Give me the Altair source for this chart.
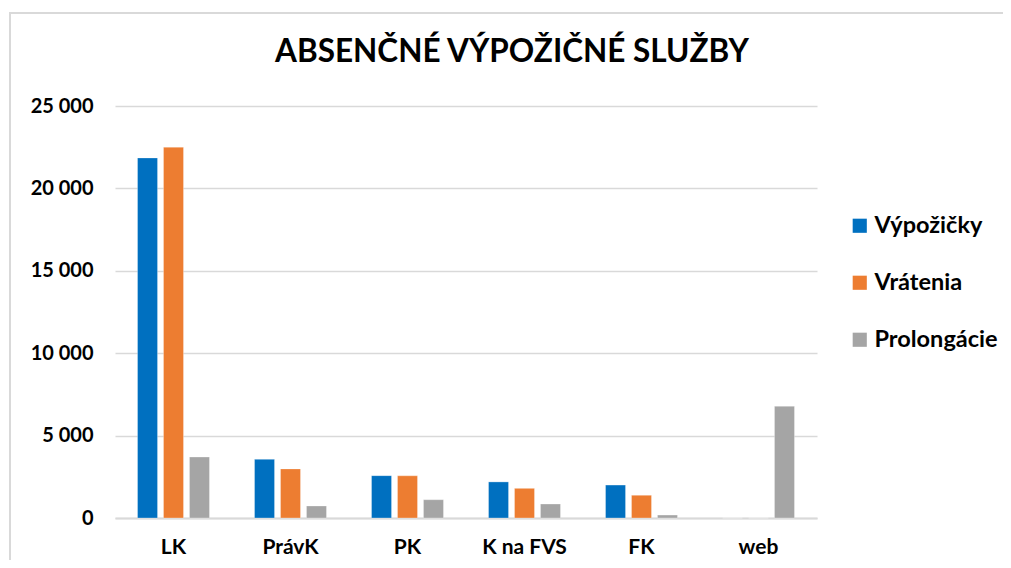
import altair as alt
import pandas as pd

title_text = "ABSENČNÉ VÝPOŽIČNÉ SLUŽBY"
categories = ["LK", "PrávK", "PK", "K na FVS", "FK", "web"]
series = ["Výpožičky", "Vrátenia", "Prolongácie"]
vypozicky = [21850, 3560, 2570, 2190, 2000, 0]
vratenia = [22500, 2980, 2560, 1800, 1380, 0]
prolongacie = [3700, 730, 1110, 850, 180, 6780]
colors = ["#0070C0", "#ED7D31", "#A5A5A5"]

rows = []
for s, vals in zip(series, [vypozicky, vratenia, prolongacie]):
    for c, v in zip(categories, vals):
        rows.append({"kat": c, "séria": s, "hodnota": v})
df = pd.DataFrame(rows)

FONT = "Lato"

bars = alt.Chart(df).mark_bar(stroke="white", strokeWidth=0.6, strokeOpacity=0.5).encode(
    x=alt.X("kat:N", sort=categories, title=None,
            scale=alt.Scale(paddingInner=0.385, paddingOuter=0.1925),
            axis=alt.Axis(labelAngle=0, ticks=False, domain=True, domainColor="#D9D9D9",
                          domainWidth=2, labelPadding=18, labelFontSize=21,
                          labelFontWeight="bold", labelFont=FONT, labelColor="#000000")),
    xOffset=alt.XOffset("séria:N", sort=series, scale=alt.Scale(paddingInner=0.23)),
    y=alt.Y("hodnota:Q", title=None,
            scale=alt.Scale(domain=[0, 25000], nice=False),
            axis=alt.Axis(values=[0, 5000, 10000, 15000, 20000, 25000], domain=False, ticks=False,
                          labelPadding=22, labelFontSize=20, labelFontWeight="bold",
                          labelFont=FONT, labelColor="#000000",
                          gridColor="#D9D9D9", gridWidth=1.5,
                          labelExpr="datum.value >= 1000 ? floor(datum.value/1000) + ' 000' : datum.value")),
    color=alt.Color("séria:N", sort=series,
                    scale=alt.Scale(domain=series, range=colors),
                    legend=alt.Legend(title=None, orient="none", legendX=733, legendY=108,
                                      symbolType="square", symbolSize=200, symbolStrokeWidth=0,
                                      labelFontSize=23.5, labelFontWeight="bold", labelFont=FONT,
                                      labelColor="#000000", rowPadding=32, labelOffset=3)),
)

border = alt.Chart(pd.DataFrame({"b": [0]})).mark_rect(
    fill="transparent", stroke="#D9D9D9", strokeWidth=2
).encode(
    x=alt.value(-105), x2=alt.value(1000),
    y=alt.value(-93), y2=alt.value(700),
)

title = alt.Chart(pd.DataFrame({"t": [title_text]})).mark_text(
    font=FONT, fontSize=31.5, fontWeight="bold", color="#000000",
    align="center", baseline="alphabetic"
).encode(
    text="t:N", x=alt.value(397), y=alt.value(-44),
)

chart = alt.layer(border, bars, title).properties(
    width=702, height=412,
    padding={"left": 107, "top": 98, "right": 186, "bottom": 42},
    autosize=alt.AutoSizeParams(type="none"),
).configure_view(stroke=None)

chart.save("out.html", embed_options={"renderer": "svg", "actions": False})
